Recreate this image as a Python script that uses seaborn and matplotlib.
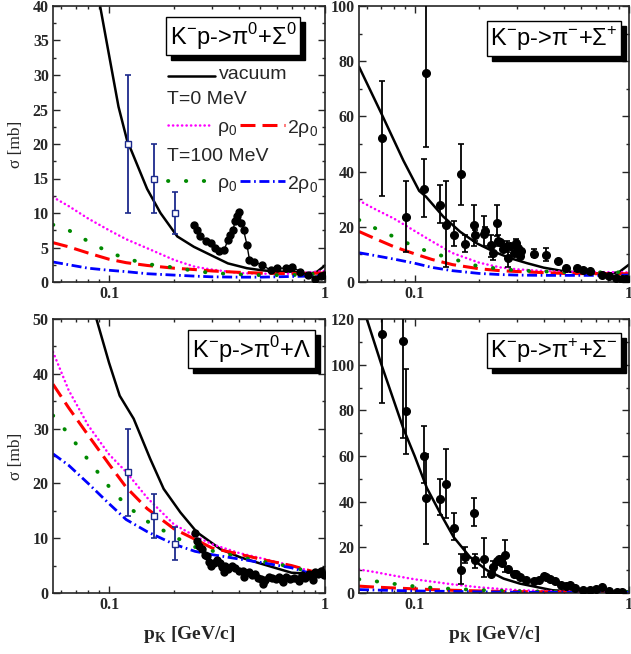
import numpy as np
import pandas as pd
import seaborn as sns
import matplotlib
matplotlib.use('Agg')
import matplotlib.pyplot as plt
from matplotlib.ticker import MultipleLocator, LogLocator, NullFormatter
from matplotlib.transforms import offset_copy

# Model grid (p_K in GeV/c) shared by the in-medium curves
pk_grid = [0.055, 0.065, 0.08, 0.1, 0.12, 0.15, 0.2, 0.25, 0.3, 0.4, 0.5, 0.7, 1.0]

# --- K-p -> pi0 Sigma0 (top left)
vac_tl_p = [0.075, 0.091, 0.0977, 0.1106, 0.121, 0.15, 0.173, 0.207, 0.247, 0.296,
            0.355, 0.435, 0.51, 0.6, 0.72, 0.83, 0.92, 1.0]
vac_tl = [60, 39.9, 34.6, 25.4, 20.6, 13.5, 10.0, 6.6, 5.1, 3.9, 2.7, 2.0, 1.7, 1.5,
          1.5, 1.1, 1.5, 2.4]
t0_r0_tl = [12.3, 11.0, 9.2, 7.5, 6.2, 4.9, 3.2, 2.2, 1.8, 1.3, 1.2, 1.2, 1.6]
t0_2r0_tl = [5.7, 5.1, 4.2, 3.3, 2.8, 2.4, 2.0, 1.8, 1.6, 1.4, 1.3, 1.2, 1.3]
t100_r0_tl = [8.3, 7.5, 5.9, 4.3, 3.4, 2.6, 2.1, 1.6, 1.3, 1.1, 1.0, 1.0, 1.2]
t100_2r0_tl = [2.9, 2.5, 2.0, 1.7, 1.5, 1.2, 1.0, 0.85, 0.75, 0.7, 0.7, 0.8, 0.9]
exp_tl_p = [0.247, 0.255, 0.265, 0.28, 0.296, 0.31, 0.323, 0.341, 0.355, 0.365, 0.375,
            0.383, 0.39, 0.40, 0.41, 0.42, 0.435, 0.447, 0.47, 0.51, 0.56, 0.6, 0.66,
            0.70, 0.77, 0.83, 0.897, 0.96, 0.99]
exp_tl = [8.3, 7.5, 6.6, 6.0, 5.6, 5.0, 4.5, 4.6, 6.1, 6.8, 7.5, 8.8, 9.5, 10.2, 8.5,
          7.5, 5.4, 3.2, 2.9, 2.5, 1.7, 2.0, 2.0, 2.2, 1.5, 1.0, 0.5, 0.8, 1.0]
sq_tl_p = [0.122, 0.162, 0.203]
sq_tl = [20, 15, 10]
sq_tl_lo = [10, 10, 7]
sq_tl_hi = [30, 20, 13]

# --- K-p -> pi- Sigma+ (top right)
vac_tr_p = [0.055, 0.07, 0.0886, 0.105, 0.113, 0.136, 0.163, 0.195, 0.234, 0.28, 0.335,
            0.40, 0.48, 0.575, 0.69, 0.82, 0.9, 1.0]
vac_tr = [78, 61, 44, 33, 30.9, 23.7, 18.2, 14.0, 11.0, 8.6, 6.8, 5.2, 4.1, 3.4, 3.1,
          3.1, 3.6, 6.3]
t0_r0_tr = [29.5, 26.5, 23.0, 18.5, 14.8, 10.5, 7.0, 5.3, 4.6, 4.0, 3.7, 3.6, 3.5]
t0_2r0_tr = [18.3, 15.8, 12.8, 10.2, 8.2, 6.3, 4.8, 4.1, 3.8, 3.4, 3.1, 3.0, 3.0]
t100_r0_tr = [22.5, 19.6, 16.4, 12.8, 10.6, 8.4, 5.6, 4.8, 4.2, 3.8, 3.6, 3.5, 3.5]
t100_2r0_tr = [10.6, 9.6, 8.3, 6.8, 5.3, 4.1, 3.1, 2.7, 2.5, 2.4, 2.4, 2.4, 2.5]
exp_tr_p = [0.0702, 0.0912, 0.113, 0.111, 0.1315, 0.1397, 0.153, 0.165, 0.172, 0.19,
            0.191, 0.21, 0.212, 0.227, 0.232, 0.242, 0.245, 0.25, 0.257, 0.27, 0.273,
            0.28, 0.29, 0.297, 0.303, 0.31, 0.312, 0.359, 0.41, 0.467, 0.51, 0.57, 0.61,
            0.66, 0.75, 0.81, 0.87, 0.93, 0.97]
exp_tr = [52, 23.4, 75.6, 33.7, 27.9, 20.6, 17, 39, 13.6, 20.5, 17, 17.5, 18.5, 13.4,
          10.5, 21.2, 15, 14.5, 12, 13, 8.8, 13, 10.5, 14, 12.5, 9.5, 11.3, 10.3, 9.9,
          7.6, 5.2, 4.9, 4.3, 4.0, 2.5, 2.0, 1.6, 1.2, 1.2]
exp_tr_lo = [31, 11, 49, 23.5, 21.5, 5.5, 13, 28, 11, 13, 15, 13, 17, 9, 8, 16.5, 13,
             14.5, 12, 11, 5.5, 13, 10.5, 12.5, 12.5, 9.5, 11.3, 9, 7.5, 7.6, 5.2, 4.9,
             4.3, 4.0, 2.5, 2.0, 1.6, 1.2, 1.2]
exp_tr_hi = [73, 36.5, 101, 44.5, 35, 36.5, 22, 50, 17, 28, 19, 24, 20, 17, 13, 28, 17,
             14.5, 12, 15, 12, 13, 10.5, 15.5, 12.5, 9.5, 11.3, 12, 12.5, 7.6, 5.2, 4.9,
             4.3, 4.0, 2.5, 2.0, 1.6, 1.2, 1.2]

# --- K-p -> pi0 Lambda (bottom left)
vac_bl_p = [0.07, 0.08, 0.0874, 0.1, 0.112, 0.13, 0.155, 0.179, 0.214, 0.255, 0.328,
            0.406, 0.5, 0.7, 0.87, 1.0]
vac_bl = [75, 58, 50, 42, 36, 31.8, 24.5, 19.0, 14.7, 11.1, 8.0, 6.5, 5.4, 3.7, 3.5, 4.7]
t0_r0_bl = [44.0, 37.0, 30.6, 25.3, 22.1, 17.4, 12.5, 10.4, 8.9, 7.3, 6.4, 5.0, 3.2]
t0_2r0_bl = [38.1, 33.8, 28.8, 23.5, 19.3, 15.4, 11.7, 9.8, 8.2, 7.1, 6.2, 5.0, 3.3]
t100_r0_bl = [32.4, 29.0, 24.3, 19.4, 16.0, 13.1, 10.3, 8.4, 7.7, 6.6, 5.8, 4.8, 3.0]
t100_2r0_bl = [25.4, 23.3, 20.0, 16.3, 13.4, 11.2, 8.9, 7.6, 7.0, 6.2, 5.6, 4.6, 2.8]
exp_bl_p = [0.25, 0.255, 0.262, 0.27, 0.278, 0.285, 0.29, 0.296, 0.305, 0.315, 0.325,
            0.335, 0.345, 0.355, 0.37, 0.385, 0.4, 0.415, 0.43, 0.445, 0.46, 0.475,
            0.49, 0.505, 0.515, 0.53, 0.55, 0.57, 0.59, 0.61, 0.63, 0.66, 0.69, 0.72,
            0.75, 0.78, 0.81, 0.84, 0.87, 0.9, 0.93, 0.96, 0.99, 0.34, 0.42, 0.52, 0.64,
            0.76, 0.88]
exp_bl = [11.0, 9.5, 8.6, 8.0, 7.0, 6.8, 5.6, 5.0, 5.4, 6.0, 5.4, 4.8, 5.0, 4.4, 5.0,
          4.6, 4.1, 4.0, 3.6, 3.8, 3.2, 3.5, 2.8, 2.6, 1.7, 2.4, 2.9, 2.7, 2.6, 3.0, 2.4,
          2.9, 2.6, 2.7, 2.5, 3.2, 2.8, 3.5, 3.0, 3.8, 3.4, 4.1, 3.3, 3.9, 3.0, 2.2, 2.0,
          2.2, 2.4]
sq_bl_p = [0.122, 0.162, 0.203]
sq_bl = [22, 14, 9]
sq_bl_lo = [14, 10, 6]
sq_bl_hi = [30, 18, 12]

# --- K-p -> pi+ Sigma- (bottom right)
vac_br_p = [0.055, 0.0598, 0.07, 0.0886, 0.1, 0.114, 0.1315, 0.152, 0.181, 0.217, 0.26,
            0.31, 0.44, 0.63, 1.0]
vac_br = [135, 120, 100, 72, 60, 46, 35, 24.5, 15.8, 10, 6.3, 4.1, 1.2, 0.5, 0.5]
t0_r0_br = [10.3, 9.2, 7.6, 6.0, 5.0, 3.8, 2.5, 1.8, 1.3, 0.9, 0.7, 0.6, 0.6]
t0_2r0_br = [3.0, 2.6, 2.2, 1.8, 1.5, 1.2, 0.9, 0.7, 0.6, 0.5, 0.4, 0.4, 0.4]
t100_r0_br = [6.0, 5.2, 4.0, 2.9, 2.3, 1.8, 1.3, 1.0, 0.8, 0.6, 0.5, 0.5, 0.5]
t100_2r0_br = [1.5, 1.3, 1.1, 0.9, 0.8, 0.7, 0.5, 0.4, 0.35, 0.3, 0.3, 0.3, 0.3]
exp_br_p = [0.0702, 0.0886, 0.0912, 0.111, 0.113, 0.1315, 0.1405, 0.153, 0.165, 0.172,
            0.19, 0.191, 0.21, 0.227, 0.232, 0.242, 0.248, 0.255, 0.265, 0.273, 0.29,
            0.297, 0.31, 0.33, 0.36, 0.38, 0.40, 0.41, 0.43, 0.45, 0.48, 0.51, 0.53, 0.56,
            0.61, 0.66, 0.70, 0.75, 0.81, 0.88, 0.93]
exp_br = [113.3, 110.2, 79.6, 60, 41.6, 41.3, 47.6, 28.5, 10.2, 15.8, 35, 14.3, 15, 8.2,
          11.5, 14, 15, 13, 16.5, 10.5, 8.5, 8.5, 7.1, 5.5, 5.3, 5.6, 7.5, 7.0, 6.2, 5.1,
          3.5, 2.9, 3.5, 2.2, 1.5, 1.5, 1.8, 2.6, 0.8, 0.5, 0.5]
exp_br_lo = [83, 68, 61, 48, 21.5, 34, 33, 23, 4, 13, 29.5, 11, 7, 8.2, 9, 14, 15, 13, 9,
             10.5, 8.5, 8.5, 7.1, 5.5, 5.3, 5.6, 7.5, 7.0, 6.2, 5.1, 3.5, 2.9, 3.5, 2.2,
             1.5, 1.5, 1.8, 2.6, 0.8, 0.5, 0.5]
exp_br_hi = [125, 125, 98, 73, 61, 50, 63, 35, 17, 20, 41.5, 17, 24, 8.2, 14, 14, 15, 13,
             23, 10.5, 8.5, 8.5, 7.1, 5.5, 5.3, 5.6, 7.5, 7.0, 6.2, 5.1, 3.5, 2.9, 3.5,
             2.2, 1.5, 1.5, 1.8, 2.6, 0.8, 0.5, 0.5]

titles = [r'K$^{\mathrm{-}}$p->π$^{\mathrm{0}}$+Σ$^{\mathrm{0}}$',
          r'K$^{\mathrm{-}}$p->π$^{\mathrm{-}}$+Σ$^{\mathrm{+}}$',
          r'K$^{\mathrm{-}}$p->π$^{\mathrm{0}}$+Λ',
          r'K$^{\mathrm{-}}$p->π$^{\mathrm{+}}$+Σ$^{\mathrm{-}}$']

sns.set_style('ticks')
plt.rcParams.update({
    'font.family': ['Liberation Serif', 'DejaVu Serif'],
    'mathtext.fontset': 'custom',
    'mathtext.rm': 'Liberation Sans',
    'mathtext.bf': 'Liberation Serif:bold',
    'axes.linewidth': 1.2,
})

MAG, RED, GRN, BLU, NAVY = '#ff00ff', '#ff0000', '#008a00', '#0000ff', '#1c2a8c'
styles = {
    'mag': dict(color=MAG, lw=1.8, linestyle=(0, (0.1, 1.7)), dash_capstyle='round'),
    'red': dict(color=RED, lw=2.2, linestyle=(0, (4.9, 2.3))),
    'grn': dict(color=GRN, lw=2.8, linestyle=(0, (0.1, 4.5)), dash_capstyle='round'),
    'blu': dict(color=BLU, lw=2.0, linestyle=(0, (3.6, 1.3, 0.6, 1.3))),
}

fig = plt.figure(figsize=(6.31, 6.54), dpi=100)
W, H = 631, 654


def make_ax(x0, x1, ytop, ybot):
    return fig.add_axes([x0 / W, 1 - ybot / H, (x1 - x0) / W, (ybot - ytop) / H])


ax_tl = make_ax(53, 325, 6, 282)
ax_tr = make_ax(359, 629, 6, 282)
ax_bl = make_ax(53, 325, 319, 593)
ax_br = make_ax(359, 629, 319, 593)


def setup(ax, ymax, major, minor):
    ax.set_xscale('log')
    ax.set_xlim(0.055, 1.0)
    ax.set_ylim(0, ymax)
    ax.set_xticks([0.1, 1])
    ax.set_xticklabels(['0.1', '1'])
    ax.xaxis.set_minor_locator(LogLocator(base=10, subs=np.arange(2, 10)))
    ax.xaxis.set_minor_formatter(NullFormatter())
    ax.yaxis.set_major_locator(MultipleLocator(major))
    ax.yaxis.set_minor_locator(MultipleLocator(minor))
    ax.tick_params(which='both', direction='in', top=True, right=True, width=1.0)
    ax.tick_params(which='major', length=5, labelsize=11.5, pad=3)
    ax.tick_params(which='minor', length=2.5)
    for lab in ax.get_xticklabels() + ax.get_yticklabels():
        lab.set_fontweight('bold')


def draw_models(ax, vp, vac, r0, r2, g0, g2):
    sns.lineplot(x=vp, y=vac, ax=ax, color='black', lw=1.8)
    sns.lineplot(x=pk_grid, y=r0, ax=ax, **styles['mag'])
    sns.lineplot(x=pk_grid, y=r2, ax=ax, **styles['red'])
    sns.lineplot(x=pk_grid, y=g0, ax=ax, **styles['grn'])
    sns.lineplot(x=pk_grid, y=g2, ax=ax, **styles['blu'])


def draw_title(ax, text, xc, yc):
    shadow = offset_copy(ax.transAxes, fig=fig, x=5, y=-5, units='dots')
    kw = dict(ha='center', va='center', fontsize=17, family=['Liberation Sans', 'DejaVu Sans'])
    ax.text(xc, yc, text, transform=shadow, color='black', zorder=9,
            bbox=dict(boxstyle='square,pad=0.15', fc='black', ec='black'), **kw)
    ax.text(xc, yc, text, transform=ax.transAxes, color='black', zorder=10,
            bbox=dict(boxstyle='square,pad=0.15', fc='white', ec='black', lw=1.0), **kw)


def draw_errors(ax, p, s, lo, hi, color, marker, ms, mfc):
    s = np.array(s)
    yerr = [s - np.array(lo), np.array(hi) - s]
    ax.errorbar(p, s, yerr=yerr, fmt='none', ecolor=color, elinewidth=1.3, capsize=2.5,
                capthick=1.2, zorder=4)
    ax.plot(p, s, linestyle='none', marker=marker, ms=ms, mfc=mfc, mec=color, mew=1.0,
            color=color, zorder=5)


# Top left
setup(ax_tl, 40, 5, 2.5)
draw_models(ax_tl, vac_tl_p, vac_tl, t0_r0_tl, t0_2r0_tl, t100_r0_tl, t100_2r0_tl)
ax_tl.plot(exp_tl_p, exp_tl, color='black', lw=1.0, marker='o', ms=5, zorder=5)
draw_errors(ax_tl, sq_tl_p, sq_tl, sq_tl_lo, sq_tl_hi, NAVY, 's', 4.5, 'white')
draw_title(ax_tl, titles[0], 0.662, 0.891)

# legend in top left panel
lk = dict(transform=ax_tl.transAxes, fontsize=14, family=['Liberation Sans', 'DejaVu Sans'],
          va='center')
ax_tl.plot([0.423, 0.596], [0.746, 0.746], transform=ax_tl.transAxes, color='black', lw=1.8)
ax_tl.text(0.61, 0.752, 'vacuum', **lk)
ax_tl.text(0.419, 0.662, 'T=0 MeV', **lk)
ax_tl.plot([0.423, 0.588], [0.569, 0.569], transform=ax_tl.transAxes, **styles['mag'])
ax_tl.text(0.603, 0.555, r'ρ$_{\mathrm{0}}$', **lk)
ax_tl.plot([0.688, 0.853], [0.569, 0.569], transform=ax_tl.transAxes, **styles['red'])
ax_tl.text(0.862, 0.555, r'2ρ$_{\mathrm{0}}$', **lk)
ax_tl.text(0.419, 0.456, 'T=100 MeV', **lk)
ax_tl.plot([0.423, 0.588], [0.366, 0.366], transform=ax_tl.transAxes, **styles['grn'])
ax_tl.text(0.603, 0.352, r'ρ$_{\mathrm{0}}$', **lk)
ax_tl.plot([0.688, 0.853], [0.366, 0.366], transform=ax_tl.transAxes, **styles['blu'])
ax_tl.text(0.862, 0.352, r'2ρ$_{\mathrm{0}}$', **lk)

# Top right
setup(ax_tr, 100, 20, 10)
draw_models(ax_tr, vac_tr_p, vac_tr, t0_r0_tr, t0_2r0_tr, t100_r0_tr, t100_2r0_tr)
draw_errors(ax_tr, exp_tr_p, exp_tr, exp_tr_lo, exp_tr_hi, 'black', 'o', 5.5, 'black')
draw_title(ax_tr, titles[1], 0.722, 0.882)

# Bottom left
setup(ax_bl, 50, 10, 5)
draw_models(ax_bl, vac_bl_p, vac_bl, t0_r0_bl, t0_2r0_bl, t100_r0_bl, t100_2r0_bl)
sns.scatterplot(x=exp_bl_p, y=exp_bl, ax=ax_bl, color='black', s=36, edgecolor='black',
                linewidth=0, zorder=3)
draw_errors(ax_bl, sq_bl_p, sq_bl, sq_bl_lo, sq_bl_hi, NAVY, 's', 4.5, 'white')
draw_title(ax_bl, titles[2], 0.73, 0.89)

# Bottom right
setup(ax_br, 120, 20, 10)
draw_models(ax_br, vac_br_p, vac_br, t0_r0_br, t0_2r0_br, t100_r0_br, t100_2r0_br)
draw_errors(ax_br, exp_br_p, exp_br, exp_br_lo, exp_br_hi, 'black', 'o', 5.5, 'black')
draw_title(ax_br, titles[3], 0.722, 0.885)

for ax in (ax_tl, ax_bl):
    ax.set_ylabel('σ [mb]', fontsize=12.5)
    ax.yaxis.set_label_coords(-0.105, 0.5)
for ax in (ax_tr, ax_br):
    ax.set_ylabel('')
for ax in (ax_tl, ax_tr):
    ax.set_xlabel('')
for ax in (ax_bl, ax_br):
    ax.set_xlabel(r'p$_{\mathbf{K}}$ [GeV/c]', fontsize=14, fontweight='bold')
    ax.xaxis.set_label_coords(0.5, -0.112)

fig.savefig('out.png', dpi=100)
